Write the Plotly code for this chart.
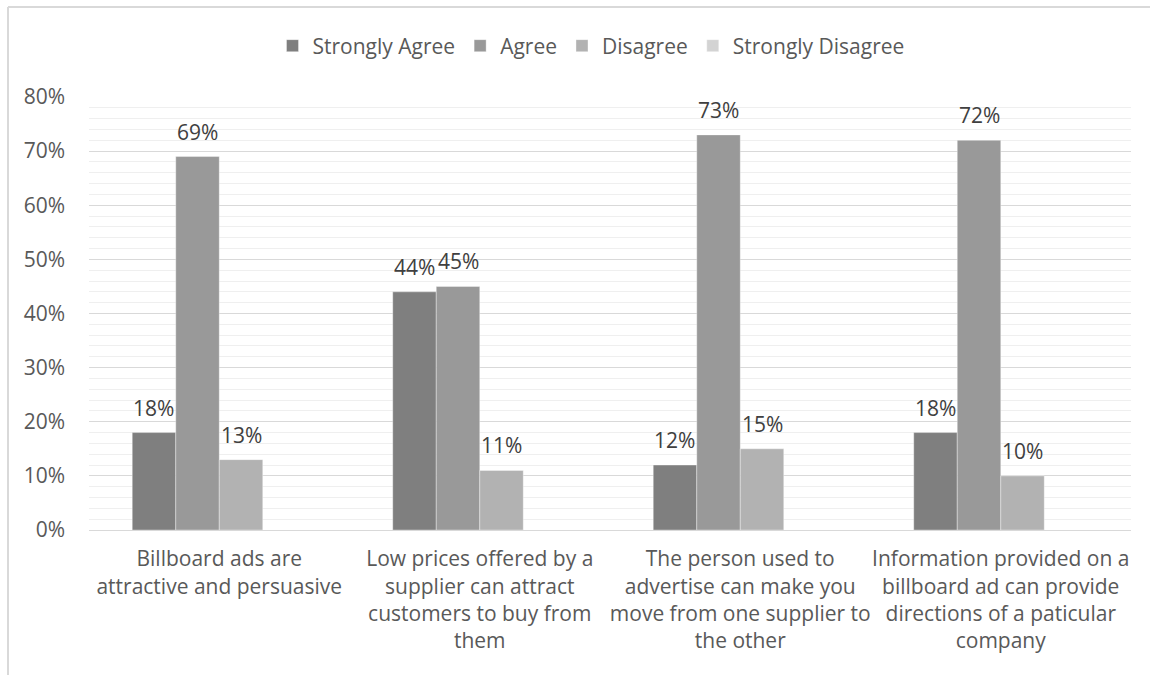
import plotly.graph_objects as go

# Survey responses per statement
categories = [
    "Billboard ads are<br>attractive and persuasive",
    "Low prices offered by a<br>supplier can attract<br>customers to buy from<br>them",
    "The person used to<br>advertise can make you<br>move from one supplier to<br>the other",
    "Information provided on a<br>billboard ad can provide<br>directions of a paticular<br>company",
]
strongly_agree = [0.18, 0.44, 0.12, 0.18]
agree = [0.69, 0.45, 0.73, 0.72]
disagree = [0.13, 0.11, 0.15, 0.10]
strongly_disagree = [None, None, None, None]

series = [
    ("Strongly Agree", strongly_agree, "#7f7f7f"),
    ("Agree", agree, "#999999"),
    ("Disagree", disagree, "#b2b2b2"),
    ("Strongly Disagree", strongly_disagree, "#d3d3d3"),
]

W, H = 1150, 675
ML, MR, MT, MB = 89, 19, 97, 145
PW, PH = W - ML - MR, H - MT - MB
BARGAP = 0.332

FONT = "Open Sans"
TXT = "#595959"
FS = 21

x_idx = list(range(len(categories)))

fig = go.Figure()
for name, vals, color in series:
    fig.add_trace(go.Bar(
        name=name,
        x=x_idx,
        y=vals,
        marker=dict(color=color, line=dict(color="rgba(255,255,255,0.6)", width=0.6)),
        hoverinfo="skip",
    ))

# Value labels centred over each bar of the group
n_series = len(series)
bar_w = (1 - BARGAP) / n_series
for s, (name, vals, color) in enumerate(series):
    offset = (s - (n_series - 1) / 2) * bar_w
    for i, v in enumerate(vals):
        if v is None:
            continue
        fig.add_annotation(
            x=i + offset, y=v, xref="x", yref="y",
            text=f"{round(v * 100)}%",
            showarrow=False, yanchor="bottom", xanchor="center",
            yshift=9,
            font=dict(family=FONT, size=FS, color="#404040"),
        )


def px_to_paper_x(px):
    return (px - ML) / PW


def px_to_paper_y(py):
    return (H - MB - py) / PH


# Chart-area border (top and left edges)
border = dict(color="#d9d9d9", width=2)
fig.add_shape(type="line", xref="paper", yref="paper",
              x0=px_to_paper_x(8), x1=px_to_paper_x(1152),
              y0=px_to_paper_y(7), y1=px_to_paper_y(7), line=border)
fig.add_shape(type="line", xref="paper", yref="paper",
              x0=px_to_paper_x(8), x1=px_to_paper_x(8),
              y0=px_to_paper_y(7), y1=px_to_paper_y(680), line=border)

fig.update_layout(
    width=W, height=H,
    margin=dict(l=ML, r=MR, t=MT, b=MB, autoexpand=False),
    paper_bgcolor="white",
    plot_bgcolor="white",
    barmode="group",
    bargap=BARGAP,
    bargroupgap=0,
    font=dict(family=FONT, color=TXT),
    legend=dict(
        orientation="h",
        x=px_to_paper_x(591), xanchor="center",
        y=px_to_paper_y(46), yanchor="middle",
        font=dict(family=FONT, size=FS, color=TXT),
        itemwidth=30,
        traceorder="normal",
    ),
    showlegend=True,
)

fig.update_xaxes(
    tickmode="array",
    tickvals=x_idx,
    ticktext=categories,
    tickangle=0,
    range=[-0.5, len(categories) - 0.5],
    tickfont=dict(family=FONT, size=FS, color=TXT),
    showgrid=False,
    showline=True,
    linecolor="#d9d9d9",
    linewidth=1,
    ticks="",
    ticklabelstandoff=10,
)

fig.update_yaxes(
    range=[0, 0.8],
    dtick=0.1,
    tickformat=".0%",
    tickfont=dict(family=FONT, size=FS, color=TXT),
    showgrid=True,
    gridcolor="#d9d9d9",
    gridwidth=1,
    zeroline=False,
    showline=False,
    ticks="",
    ticklabelstandoff=23,
    minor=dict(dtick=0.02, showgrid=True, gridcolor="#efefef", gridwidth=1, ticks=""),
)

fig.write_html("out.html")
